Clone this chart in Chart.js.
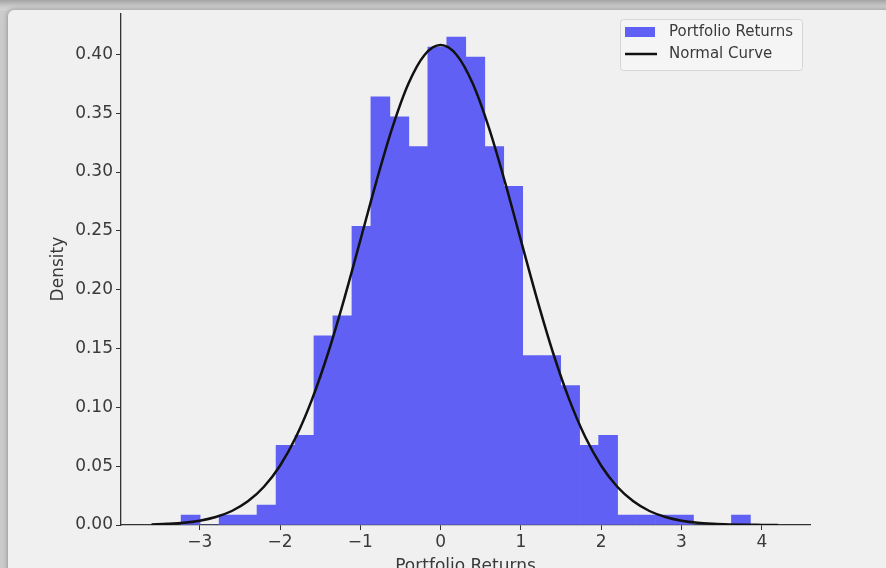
<!DOCTYPE html>
<html>
<head>
<meta charset="utf-8">
<title>Portfolio Returns</title>
<script src="https://cdn.jsdelivr.net/npm/chart.js@4.4.1/dist/chart.umd.min.js"></script>
<style>
  html, body { margin: 0; padding: 0; overflow: hidden; width: 886px; height: 568px; }
  body { background: linear-gradient(to bottom, #a4a4a4 0px, #c9c9c9 6px, #d4d4d4 10px, #cbcbcb 11px); position: relative; }
  #panel {
    position: absolute; left: 8px; top: 10px; width: 900px; height: 600px;
    background: #f0f0f0; border-radius: 6px;
    box-shadow: 0 0 5px rgba(0, 0, 0, 0.35);
  }
  #wrap { position: absolute; left: 0; top: 0; width: 886px; height: 580px; }
</style>
</head>
<body>
<div id="panel"></div>
<div id="wrap"><canvas id="histChart" width="886" height="580"></canvas></div>
<script>
// histogram bins (centres) and density heights
const binCenters = [
  -3.113, -2.877, -2.640, -2.404, -2.168, -1.931, -1.695, -1.459, -1.223, -0.986,
  -0.750, -0.514, -0.277, -0.041, 0.195, 0.432, 0.668, 0.904, 1.141, 1.377,
  1.613, 1.850, 2.086, 2.322, 2.558, 2.795, 3.031, 3.267, 3.504, 3.740
];
const densities = [
  0.0085, 0, 0.0085, 0.0085, 0.0169, 0.0677, 0.0762, 0.1608, 0.1777, 0.2539,
  0.3640, 0.3470, 0.3216, 0.4063, 0.4147, 0.3978, 0.3216, 0.2878, 0.1439, 0.1439,
  0.1185, 0.0677, 0.0762, 0.0085, 0.0085, 0.0085, 0.0085, 0, 0, 0.0085
];

// normal curve points
const curveX = [
  -3.6, -3.4, -3.2, -3.0, -2.8, -2.6, -2.4, -2.2, -2.0, -1.8, -1.6, -1.4, -1.2, -1.0,
  -0.8, -0.6, -0.4, -0.2, 0.0, 0.2, 0.4, 0.6, 0.8, 1.0, 1.2, 1.4, 1.6, 1.8, 2.0,
  2.2, 2.4, 2.6, 2.8, 3.0, 3.2, 3.4, 3.6, 3.8, 4.0, 4.2
];
const curveY = [
  0.0005, 0.0010, 0.0019, 0.0037, 0.0068, 0.0119, 0.0201, 0.0325, 0.0504, 0.0750,
  0.1070, 0.1464, 0.1922, 0.2419, 0.2919, 0.3379, 0.3752, 0.3995, 0.4079, 0.3995,
  0.3752, 0.3379, 0.2919, 0.2419, 0.1922, 0.1464, 0.1070, 0.0750, 0.0504, 0.0325,
  0.0201, 0.0119, 0.0068, 0.0037, 0.0019, 0.0010, 0.0005, 0.0002, 0.0001, 0.0000
];

const xTicks = [-3, -2, -1, 0, 1, 2, 3, 4];
const yTicks = [0, 0.05, 0.10, 0.15, 0.20, 0.25, 0.30, 0.35, 0.40];

const barColor = 'rgb(96, 96, 244)';
const lineColor = '#111111';
const textColor = '#3a3a3a';
const fontFamily = '"DejaVu Sans", Verdana, sans-serif';

const legendBox = {
  id: 'legendBox',
  afterDraw(chart) {
    const c = chart.ctx;
    const x = 620, y = 19, w = 182, h = 51;
    c.save();
    c.beginPath();
    c.roundRect(x + 0.5, y + 0.5, w, h, 3);
    c.fillStyle = 'rgba(246, 246, 246, 0.85)';
    c.fill();
    c.strokeStyle = '#d6d6d6';
    c.lineWidth = 1;
    c.stroke();

    c.fillStyle = barColor;
    c.fillRect(625, 27, 30, 10);

    c.beginPath();
    c.moveTo(625, 54);
    c.lineTo(657, 54);
    c.strokeStyle = lineColor;
    c.lineWidth = 2.5;
    c.stroke();

    c.fillStyle = textColor;
    c.font = '15px ' + fontFamily;
    c.textBaseline = 'middle';
    c.fillText('Portfolio Returns', 669, 32);
    c.fillText('Normal Curve', 669, 54.5);
    c.restore();
  }
};

const ctx = document.getElementById('histChart').getContext('2d');
const chart = new Chart(ctx, {
  type: 'bar',
  data: {
    datasets: [
      {
        type: 'line',
        label: 'Normal Curve',
        data: curveX.map((x, i) => ({ x: x, y: curveY[i] })),
        borderColor: lineColor,
        borderWidth: 2.5,
        pointRadius: 0,
        cubicInterpolationMode: 'monotone',
        fill: false,
        order: 0
      },
      {
        type: 'bar',
        label: 'Portfolio Returns',
        data: binCenters.map((x, i) => ({ x: x, y: densities[i] })),
        backgroundColor: barColor,
        borderWidth: 0,
        barPercentage: 1,
        categoryPercentage: 1,
        order: 1
      }
    ]
  },
  options: {
    responsive: false,
    devicePixelRatio: 1,
    animation: false,
    layout: { padding: { left: 0, top: 11, right: 76, bottom: 0 } },
    plugins: {
      legend: { display: false },
      tooltip: { enabled: false }
    },
    scales: {
      x: {
        type: 'linear',
        offset: false,
        min: -3.98,
        max: 4.6,
        afterFit(scale) { scale.height = 55; },
        afterBuildTicks(scale) { scale.ticks = xTicks.map(v => ({ value: v })); },
        grid: { display: true, offset: false, drawOnChartArea: false, drawTicks: true, tickLength: 5, color: '#333', lineWidth: 1 },
        border: { display: true, color: '#333', width: 1.3 },
        ticks: {
          color: textColor,
          padding: 2,
          font: { family: fontFamily, size: 17 },
          callback: v => String(v).replace('-', '\u2212')
        },
        title: {
          display: true,
          text: 'Portfolio Returns',
          color: textColor,
          font: { family: fontFamily, size: 17 },
          padding: { top: 0, bottom: 3 }
        }
      },
      y: {
        min: 0,
        max: 0.435,
        afterFit(scale) { scale.width = 121; },
        afterBuildTicks(scale) { scale.ticks = yTicks.map(v => ({ value: v })); },
        grid: { display: true, drawOnChartArea: false, drawTicks: true, tickLength: 5, color: '#333', lineWidth: 1 },
        border: { display: true, color: '#333', width: 1.3 },
        ticks: {
          color: textColor,
          padding: 3,
          font: { family: fontFamily, size: 17 },
          callback: v => v.toFixed(2)
        },
        title: {
          display: true,
          text: 'Density',
          color: textColor,
          font: { family: fontFamily, size: 17 },
          padding: { top: 48, bottom: 0 }
        }
      }
    }
  },
  plugins: [legendBox]
});
</script>
</body>
</html>
